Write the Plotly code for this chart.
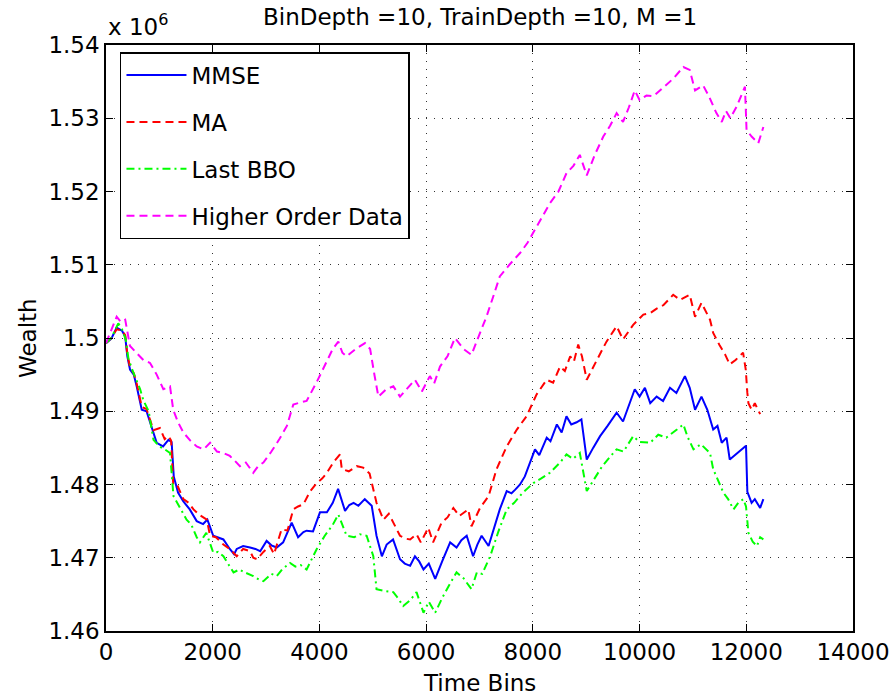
import plotly.graph_objects as go

# ---------------- data (wealth in units of 10^6) ----------------
t_mmse = [0, 100, 200, 300, 360, 400, 450, 520, 575, 670, 760, 890, 950, 1070, 1170, 1230, 1270, 1350, 1450, 1570,
          1700, 1820, 1900, 2010, 2100, 2200, 2320, 2400, 2450, 2570, 2700, 2800, 2890, 3010, 3100, 3200, 3320, 3400,
          3480, 3600, 3700, 3760, 3880, 4010, 4140, 4250, 4350, 4480, 4560, 4640, 4730, 4850, 4980, 5070, 5170, 5260,
          5380, 5510, 5600, 5700, 5790, 5870, 5950, 6050, 6170, 6300, 6450, 6570, 6660, 6760, 6880, 6960, 7040, 7170,
          7270, 7380, 7510, 7600, 7670, 7760, 7850, 7950, 8040, 8120, 8260, 8330, 8450, 8540, 8630, 8720, 8820, 8910,
          9010, 9130, 9260, 9400, 9570, 9690, 9800, 9910, 10000, 10100, 10200, 10320, 10440, 10570, 10690, 10820,
          10850, 10940, 11040, 11160, 11270, 11380, 11460, 11540, 11630, 11690, 11800, 11940, 11995, 12020, 12100,
          12160, 12260, 12320]
w_mmse = [1.4993, 1.4999, 1.5014, 1.5010, 1.5002, 1.4975, 1.4957, 1.4950, 1.4934, 1.4902, 1.4900, 1.4871, 1.4857,
          1.4852, 1.4861, 1.4858, 1.4811, 1.4789, 1.4777, 1.4766, 1.4750, 1.4746, 1.4752, 1.4730, 1.4728, 1.4725,
          1.4712, 1.4705, 1.4712, 1.4716, 1.4714, 1.4712, 1.4709, 1.4723, 1.4717, 1.4714, 1.4721, 1.4735, 1.4748,
          1.4728, 1.4735, 1.4737, 1.4736, 1.4762, 1.4762, 1.4775, 1.4794, 1.4764, 1.4772, 1.4775, 1.4771, 1.4780,
          1.4771, 1.4730, 1.4702, 1.4718, 1.4725, 1.4698, 1.4692, 1.4689, 1.4702, 1.4695, 1.4684, 1.4692, 1.4671,
          1.4695, 1.4721, 1.4714, 1.4724, 1.4730, 1.4702, 1.4718, 1.4730, 1.4716, 1.4740, 1.4766, 1.4791, 1.4788,
          1.4793, 1.4800, 1.4811, 1.4830, 1.4848, 1.4840, 1.4864, 1.4859, 1.4882, 1.4871, 1.4893, 1.4882, 1.4885,
          1.4889, 1.4834, 1.4850, 1.4866, 1.4880, 1.4898, 1.4886, 1.4908, 1.4930, 1.4920, 1.4932, 1.4911, 1.4920,
          1.4914, 1.4932, 1.4925, 1.4943, 1.4948, 1.4932, 1.4902, 1.4920, 1.4902, 1.4875, 1.4880, 1.4857, 1.4864,
          1.4834, 1.4841, 1.4850, 1.4853, 1.4790, 1.4775, 1.4780, 1.4768, 1.4780]

t_ma = [0, 100, 200, 300, 360, 400, 450, 520, 575, 670, 760, 890, 1010, 1100, 1170, 1220, 1260, 1330, 1450, 1550,
        1640, 1760, 1890, 1950, 2060, 2200, 2320, 2450, 2570, 2700, 2760, 2830, 2950, 3070, 3150, 3290, 3400, 3510,
        3600, 3700, 3820, 3950, 4050, 4140, 4260, 4385, 4420, 4550, 4700, 4820, 4940, 5070, 5200, 5300, 5385, 5510,
        5620, 5700, 5820, 5900, 6040, 6130, 6290, 6400, 6510, 6620, 6790, 6850, 7010, 7170, 7320, 7510, 7700, 7880,
        8070, 8260, 8380, 8510, 8600, 8700, 8770, 8850, 8920, 9010, 9200, 9380, 9570, 9690, 9880, 10070, 10200,
        10320, 10450, 10630, 10760, 10940, 11040, 11160, 11320, 11380, 11500, 11600, 11690, 11800, 11940, 11990,
        12020, 12040, 12100, 12160, 12260]
w_ma = [1.4993, 1.5000, 1.5012, 1.5010, 1.5004, 1.4978, 1.4960, 1.4952, 1.4938, 1.4906, 1.4903, 1.4874, 1.4877,
        1.4862, 1.4866, 1.4860, 1.4800, 1.4800, 1.4780, 1.4775, 1.4766, 1.4758, 1.4752, 1.4730, 1.4728, 1.4718,
        1.4712, 1.4702, 1.4712, 1.4709, 1.4700, 1.4698, 1.4708, 1.4716, 1.4705, 1.4739, 1.4737, 1.4766, 1.4770,
        1.4773, 1.4790, 1.4802, 1.4808, 1.4816, 1.4830, 1.4841, 1.4821, 1.4818, 1.4825, 1.4823, 1.4815, 1.4775,
        1.4752, 1.4760, 1.4748, 1.4730, 1.4726, 1.4725, 1.4732, 1.4721, 1.4741, 1.4721, 1.4748, 1.4755, 1.4768,
        1.4757, 1.4766, 1.4743, 1.4768, 1.4784, 1.4821, 1.4852, 1.4875, 1.4893, 1.4923, 1.4943, 1.4939, 1.4961,
        1.4955, 1.4975, 1.4968, 1.4991, 1.4975, 1.4943, 1.4970, 1.4995, 1.5016, 1.4998, 1.5018, 1.5032, 1.5034,
        1.5040, 1.5045, 1.5059, 1.5052, 1.5059, 1.5029, 1.5048, 1.5025, 1.5007, 1.4990, 1.4978, 1.4964, 1.4970,
        1.4980, 1.4957, 1.4925, 1.4911, 1.4902, 1.4911, 1.4896]

t_bbo = [0, 100, 230, 300, 370, 420, 500, 640, 700, 800, 890, 1000, 1100, 1200, 1265, 1360, 1510, 1600, 1700, 1760,
         1880, 2010, 2100, 2200, 2390, 2500, 2600, 2760, 2870, 2950, 3100, 3200, 3300, 3450, 3550, 3650, 3760, 3950,
         4100, 4250, 4355, 4510, 4650, 4760, 4885, 5010, 5070, 5200, 5385, 5470, 5570, 5700, 5820, 5950, 6050, 6170,
         6300, 6450, 6570, 6700, 6850, 6950, 7050, 7200, 7350, 7510, 7650, 7800, 8010, 8150, 8320, 8510, 8630, 8750,
         8880, 9010, 9130, 9300, 9450, 9570, 9700, 9880, 10000, 10200, 10350, 10500, 10700, 10820, 10900, 11010,
         11150, 11320, 11380, 11570, 11660, 11760, 11850, 11945, 11995, 12040, 12120, 12200, 12260, 12320]
w_bbo = [1.4993, 1.5000, 1.5020, 1.5012, 1.4998, 1.4972, 1.4955, 1.4930, 1.4915, 1.4900, 1.4861, 1.4852, 1.4848,
         1.4843, 1.4784, 1.4772, 1.4752, 1.4745, 1.4728, 1.4721, 1.4734, 1.4707, 1.4708, 1.4702, 1.4680, 1.4684,
         1.4680, 1.4675, 1.4670, 1.4668, 1.4678, 1.4675, 1.4684, 1.4693, 1.4688, 1.4690, 1.4684, 1.4712, 1.4730,
         1.4745, 1.4759, 1.4730, 1.4728, 1.4732, 1.4730, 1.4702, 1.4657, 1.4655, 1.4653, 1.4645, 1.4634, 1.4642,
         1.4653, 1.4625, 1.4640, 1.4625, 1.4645, 1.4665, 1.4680, 1.4672, 1.4657, 1.4680, 1.4678, 1.4702, 1.4735,
         1.4766, 1.4775, 1.4788, 1.4802, 1.4808, 1.4816, 1.4830, 1.4841, 1.4835, 1.4843, 1.4791, 1.4805, 1.4825,
         1.4838, 1.4848, 1.4845, 1.4866, 1.4858, 1.4857, 1.4868, 1.4864, 1.4875, 1.4882, 1.4865, 1.4848, 1.4855,
         1.4843, 1.4821, 1.4789, 1.4780, 1.4766, 1.4775, 1.4780, 1.4770, 1.4734, 1.4722, 1.4716, 1.4728, 1.4725]

t_hod = [0, 100, 200, 280, 360, 450, 575, 700, 825, 950, 1075, 1200, 1260, 1350, 1450, 1580, 1700, 1830, 1950, 2080,
         2200, 2320, 2420, 2510, 2620, 2760, 2850, 2950, 3100, 3250, 3390, 3510, 3640, 3760, 3950, 4140, 4250, 4354,
         4430, 4510, 4680, 4854, 4950, 5030, 5105, 5250, 5385, 5510, 5650, 5790, 5920, 6070, 6150, 6260, 6400, 6540,
         6700, 6850, 7010, 7130, 7250, 7380, 7560, 7760, 7900, 8070, 8200, 8320, 8480, 8630, 8760, 8880, 9010, 9160,
         9320, 9450, 9570, 9690, 9800, 9910, 10000, 10130, 10260, 10380, 10500, 10630, 10820, 10940, 11040, 11190,
         11300, 11440, 11540, 11620, 11700, 11820, 11975, 12005, 12100, 12225, 12320]
w_hod = [1.4993, 1.5010, 1.5029, 1.5022, 1.5025, 1.4989, 1.4980, 1.4970, 1.4966, 1.4950, 1.4930, 1.4934, 1.4902,
         1.4885, 1.4871, 1.4860, 1.4852, 1.4848, 1.4857, 1.4845, 1.4843, 1.4839, 1.4832, 1.4825, 1.4830, 1.4816,
         1.4825, 1.4830, 1.4845, 1.4862, 1.4880, 1.4909, 1.4912, 1.4914, 1.4940, 1.4970, 1.4985, 1.4995, 1.4980,
         1.4975, 1.4985, 1.4993, 1.4985, 1.4950, 1.4920, 1.4930, 1.4934, 1.4920, 1.4932, 1.4943, 1.4927, 1.4948,
         1.4938, 1.4961, 1.4975, 1.5000, 1.4985, 1.4977, 1.5007, 1.5029, 1.5055, 1.5084, 1.5100, 1.5116, 1.5130,
         1.5152, 1.5168, 1.5184, 1.5200, 1.5225, 1.5235, 1.5250, 1.5222, 1.5250, 1.5275, 1.5290, 1.5307, 1.5295,
         1.5315, 1.5338, 1.5325, 1.5331, 1.5330, 1.5338, 1.5345, 1.5354, 1.5370, 1.5366, 1.5338, 1.5345, 1.5330,
         1.5307, 1.5295, 1.5310, 1.5300, 1.5316, 1.5343, 1.5284, 1.5275, 1.5266, 1.5288]

series_names = ["MMSE", "MA", "Last BBO", "Higher Order Data"]
y_tickvals = [1.46, 1.47, 1.48, 1.49, 1.50, 1.51, 1.52, 1.53, 1.54]
y_ticktext = ["1.46", "1.47", "1.48", "1.49", "1.5", "1.51", "1.52", "1.53", "1.54"]
x_tickvals = [0, 2000, 4000, 6000, 8000, 10000, 12000, 14000]
x_ticktext = ["0", "2000", "4000", "6000", "8000", "10000", "12000", "14000"]

FONT = "DejaVu Sans"
FS = 23

fig = go.Figure()
styles = [
    dict(color="#0000ff", dash="solid"),
    dict(color="#ff0000", dash="8px,5px"),
    dict(color="#00ff00", dash="8px,4px,2px,4px"),
    dict(color="#ff00ff", dash="8px,5px"),
]
for name, t, w, st in zip(series_names, [t_mmse, t_ma, t_bbo, t_hod], [w_mmse, w_ma, w_bbo, w_hod], styles):
    fig.add_trace(go.Scatter(x=t, y=w, mode="lines", name=name, legendgroup=name,
                             line=dict(color=st["color"], dash=st["dash"], width=2)))

axis_common = dict(showline=True, mirror="ticks", linecolor="black", linewidth=1.5,
                   ticks="inside", ticklen=7, tickwidth=1.2, tickcolor="black",
                   showgrid=True, gridcolor="#333333", gridwidth=1, griddash="1px,7px",
                   zeroline=False, automargin=False,
                   tickfont=dict(family=FONT, size=FS, color="black"))

fig.update_layout(
    width=892, height=700,
    margin=dict(l=106, r=39, t=45, b=69),
    paper_bgcolor="white", plot_bgcolor="white",
    xaxis=dict(range=[0, 14000], tickvals=x_tickvals, ticktext=x_ticktext, **axis_common),
    yaxis=dict(range=[1.46, 1.54], tickvals=y_tickvals, ticktext=y_ticktext, **axis_common),
    showlegend=True,
    legend=dict(x=0.0187, y=0.988, xanchor="left", yanchor="top",
                bgcolor="white", bordercolor="black", borderwidth=1.5,
                font=dict(family=FONT, size=FS, color="black"),
                tracegroupgap=14, itemwidth=60),
    annotations=[
        dict(text="BinDepth =10, TrainDepth =10, M =1", x=0.5, y=1, xref="paper", yref="paper",
             xanchor="center", yanchor="bottom", yshift=13, showarrow=False,
             font=dict(family=FONT, size=FS, color="black")),
        dict(text="x 10<sup>6</sup>", x=0, y=1, xref="paper", yref="paper",
             xanchor="left", yanchor="bottom", yshift=3, showarrow=False,
             font=dict(family=FONT, size=FS, color="black")),
        dict(text="Wealth", x=0, y=0.5, xref="paper", yref="paper", textangle=-90,
             xanchor="center", yanchor="middle", xshift=-78, showarrow=False,
             font=dict(family=FONT, size=FS, color="black")),
        dict(text="Time Bins", x=0.5, y=0, xref="paper", yref="paper",
             xanchor="center", yanchor="middle", yshift=-52, showarrow=False,
             font=dict(family=FONT, size=FS, color="black")),
    ],
)

fig.write_html("out.html")
